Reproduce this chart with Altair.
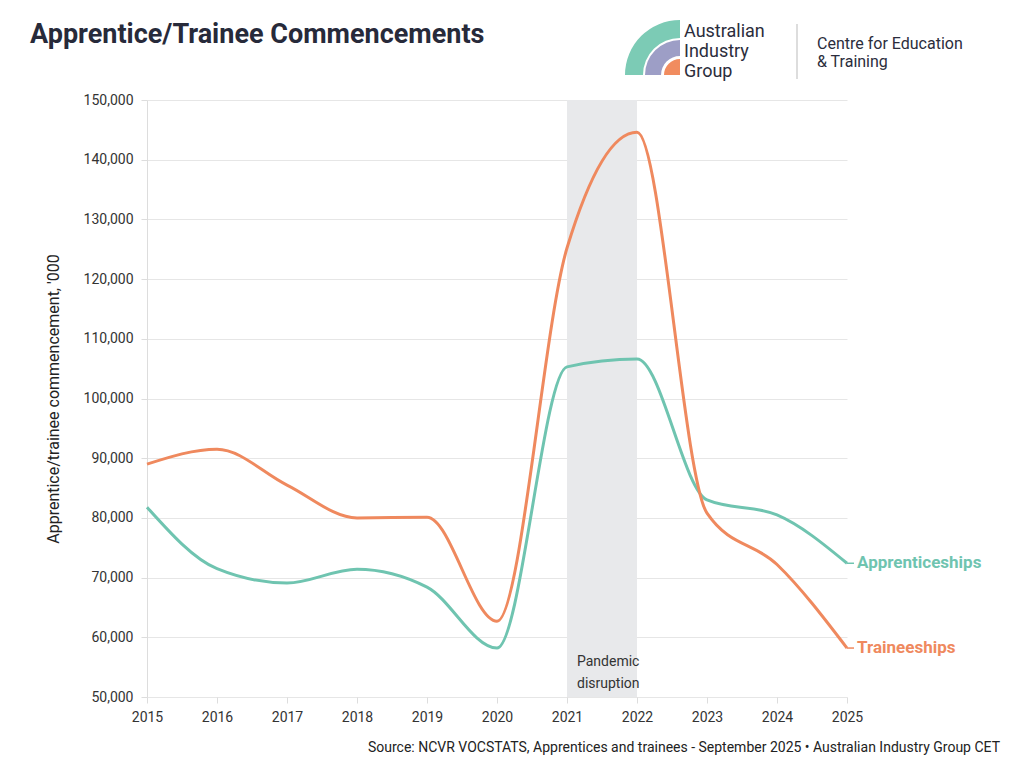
import altair as alt
import pandas as pd

years = list(range(2015, 2026))
apprenticeships = [81800, 71500, 69100, 71400, 68400, 58200, 105300, 106600, 83000, 80500, 72400]
traineeships = [89000, 91500, 85500, 80000, 80100, 62700, 125200, 144600, 80800, 72200, 58200]
series_names = ["Apprenticeships", "Traineeships"]
series_colors = ["#6fc4b0", "#ef895e"]
band_start, band_end = 2021, 2022
band_label = ["Pandemic", "disruption"]
title_text = "Apprentice/Trainee Commencements"
source_text = "Source: NCVR VOCSTATS, Apprentices and trainees - September 2025 • Australian Industry Group CET"
y_title = "Apprentice/trainee commencement, '000"

FONT = "Roboto"
W, H = 700, 597
PL, PT = 147, 100

rows = []
for y, a, t in zip(years, apprenticeships, traineeships):
    rows.append({"year": y, "series": series_names[0], "value": a})
    rows.append({"year": y, "series": series_names[1], "value": t})
df = pd.DataFrame(rows)
last = df[df["year"] == years[-1]]

xs = alt.Scale(domain=[2015, 2025], nice=False, zero=False)
ys = alt.Scale(domain=[50000, 150000], nice=False, zero=False)
cs = alt.Scale(domain=series_names, range=series_colors)

band = alt.Chart(pd.DataFrame({"x": [band_start], "x2": [band_end]})).mark_rect(
    color="#e8e9eb"
).encode(
    x=alt.X("x:Q", scale=xs,
            axis=alt.Axis(values=years, format="d", title=None, labelFont=FONT,
                          labelFontSize=14, labelColor="#333333", grid=False,
                          domain=False, tickColor="#dddddd", tickSize=6,
                          labelPadding=7, labelFlush=False, labelOverlap=False)),
    x2="x2:Q",
    y=alt.value(0),
    y2=alt.value(H),
)

band_text = alt.Chart(pd.DataFrame({"x": [band_start], "t": [band_label]})).mark_text(
    align="left", baseline="middle", font=FONT, fontSize=14, color="#333333",
    dx=10, lineHeight=22
).encode(
    x=alt.X("x:Q", scale=xs),
    y=alt.value(562),
    text="t",
)

lines = alt.Chart(df).mark_line(interpolate="monotone", strokeWidth=3).encode(
    x=alt.X("year:Q", scale=xs),
    y=alt.Y("value:Q", scale=ys,
            axis=alt.Axis(values=list(range(50000, 150001, 10000)), format=",d",
                          title=y_title, titleFont=FONT, titleFontSize=16,
                          titleFontWeight="normal", titleColor="#222222",
                          titlePadding=22, labelFont=FONT, labelFontSize=14,
                          labelColor="#333333", gridColor="#e6e6e6",
                          domainColor="#dddddd", tickColor="#dddddd",
                          tickSize=6, labelPadding=8)),
    color=alt.Color("series:N", scale=cs, legend=None),
)

dash = alt.Chart(last).mark_rule(strokeWidth=1.5).encode(
    x=alt.X("year:Q", scale=xs),
    x2=alt.value(W + 7),
    y=alt.Y("value:Q", scale=ys),
    color=alt.Color("series:N", scale=cs, legend=None),
)

end_labels = alt.Chart(last).mark_text(
    align="left", baseline="middle", font=FONT, fontSize=17, fontWeight="bold", dx=10
).encode(
    x=alt.X("year:Q", scale=xs),
    y=alt.Y("value:Q", scale=ys),
    text="series:N",
    color=alt.Color("series:N", scale=cs, legend=None),
)

title = alt.Chart(pd.DataFrame({"t": [title_text]})).mark_text(
    align="left", baseline="middle", font=FONT, fontSize=27, fontWeight="bold",
    color="#272a3a"
).encode(x=alt.value(30 - PL), y=alt.value(35 - PT), text="t")

source = alt.Chart(pd.DataFrame({"t": [source_text]})).mark_text(
    align="right", baseline="middle", font=FONT, fontSize=14, color="#222222"
).encode(x=alt.value(1000 - PL), y=alt.value(748 - PT), text="t")

# logo
cx, cy = 680 - PL, 75 - PT
logo_df = pd.DataFrame({
    "outer": [55, 35, 16],
    "inner": [37, 19, 0],
    "col": ["#7ccbb5", "#9d9ec6", "#f18c5f"],
})
logo = alt.Chart(logo_df).mark_arc(theta=4.71239, theta2=6.28319).encode(
    x=alt.value(cx), y=alt.value(cy),
    radius=alt.Radius("outer:Q", scale=None),
    radius2=alt.Radius2("inner:Q"),
    color=alt.Color("col:N", scale=None, legend=None),
)
logo_words = ["Australian", "Industry", "Group"]
logo_text = alt.Chart(pd.DataFrame({"t": [logo_words]})).mark_text(
    align="left", baseline="middle", font=FONT, fontSize=18, color="#2b2d3c",
    lineHeight=20
).encode(x=alt.value(684 - PL), y=alt.value(32 - PT), text="t")
sep = alt.Chart(pd.DataFrame({"a": [0]})).mark_rule(color="#bbbbbb", strokeWidth=1).encode(
    x=alt.value(797 - PL), y=alt.value(24 - PT), y2=alt.value(79 - PT)
)
cet_words = ["Centre for Education", "& Training"]
cet_text = alt.Chart(pd.DataFrame({"t": [cet_words]})).mark_text(
    align="left", baseline="middle", font=FONT, fontSize=16, color="#2b2d3c",
    lineHeight=18
).encode(x=alt.value(817 - PL), y=alt.value(44 - PT), text="t")

chart = alt.layer(
    band, lines, band_text, dash, end_labels, title, source, logo, logo_text, sep, cet_text
).properties(
    width=W, height=H,
    autosize=alt.AutoSizeParams(type="none"),
    padding={"left": PL, "top": PT, "right": 1024 - PL - W, "bottom": 768 - PT - H},
    background="white",
).configure_view(stroke=None)

chart.save("out.html", embed_options={"renderer": "svg", "actions": False})
